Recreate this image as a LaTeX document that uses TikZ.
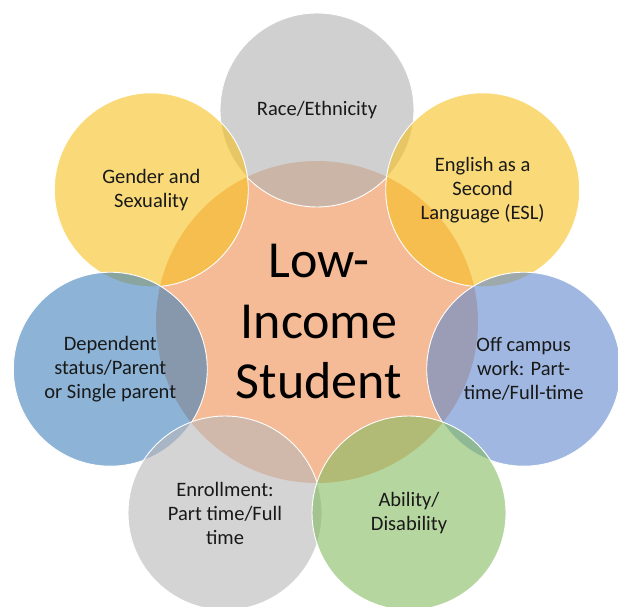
\documentclass[tikz,border=0pt]{standalone}
\usepackage{fontspec}
\setmainfont{Carlito}
\definecolor{cOrange}{RGB}{244,187,150}
\definecolor{cGrey}{RGB}{177,177,177}
\definecolor{cGold}{RGB}{247,193,30}
\definecolor{cBlueA}{RGB}{65,130,188}
\definecolor{cBlueB}{RGB}{97,137,205}
\definecolor{cGreyB}{RGB}{185,183,185}
\definecolor{cGreen}{RGB}{133,187,97}
\tikzset{
  sat/.style={circle, minimum size=194pt, inner sep=0pt, draw=white, line width=0.9pt,
    fill opacity=0.6, text opacity=1, align=center, text=black!90,
    font=\fontsize{20.5}{24}\selectfont},
  hub/.style={circle, minimum size=322pt, inner sep=0pt, fill=cOrange},
  hubtext/.style={align=center, text=black, font=\fontsize{52}{60.5}\selectfont}
}
\begin{document}
\begin{tikzpicture}[x=1pt,y=-1pt]
\useasboundingbox (0,0) rectangle (618,607);
\node[hub] (c) at (317,322) {};
\node[sat, fill=cGrey]  (race) at (317,110) {Race/Ethnicity};
\node[sat, fill=cGold]  (gender) at (151.3,189.8) {Gender and\\Sexuality};
\node[sat, fill=cGold]  (esl) at (482.7,189.8) {English as a\\Second\\Language (ESL)};
\node[sat, fill=cBlueA] (dep) at (110.3,369.2) {Dependent\\status/Parent\\or Single parent};
\node[sat, fill=cBlueB] (off) at (523.7,369.2) {Off campus\\work: Part-\\time/Full-time};
\node[sat, fill=cGreyB] (enr) at (225,513) {Enrollment:\\Part time/Full\\time};
\node[sat, fill=cGreen] (abl) at (409,513) {Ability/\\Disability};
\node[hubtext] (ctext) at (319,322) {Low-\\Income\\Student};
\end{tikzpicture}
\end{document}
